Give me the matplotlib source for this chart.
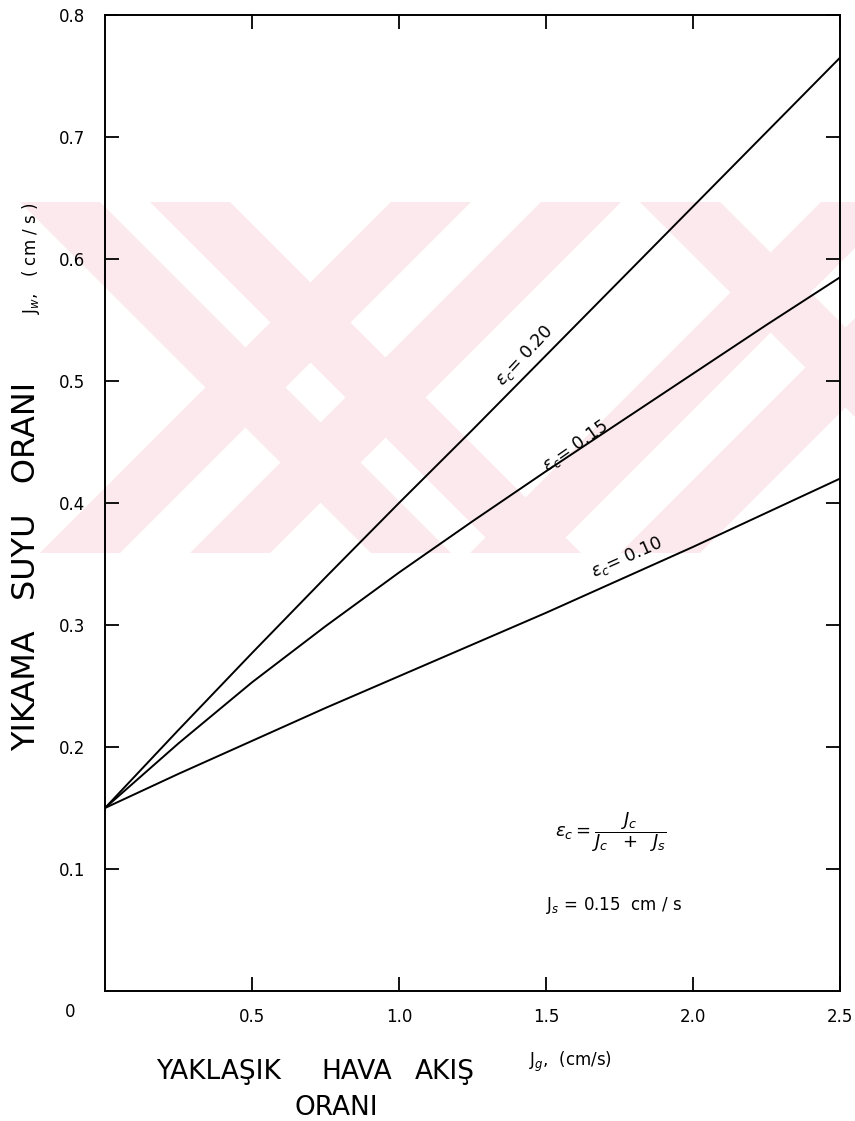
import matplotlib.pyplot as plt
from matplotlib.patches import Polygon

# air flow rate Jg (cm/s)
jg = [0.0, 0.25, 0.5, 0.75, 1.0, 1.25, 1.5, 1.75, 2.0, 2.25, 2.5]
# wash water rate Jw (cm/s) for each carrier fraction
jw_020 = [0.15, 0.214, 0.277, 0.339, 0.40, 0.46, 0.521, 0.582, 0.643, 0.704, 0.765]
jw_015 = [0.15, 0.203, 0.253, 0.299, 0.343, 0.385, 0.426, 0.466, 0.506, 0.546, 0.585]
jw_010 = [0.15, 0.178, 0.205, 0.232, 0.258, 0.284, 0.31, 0.337, 0.364, 0.392, 0.42]
curve_labels = ["0.20", "0.15", "0.10"]

xticks = [0.5, 1.0, 1.5, 2.0, 2.5]
xtick_labels = ["0.5", "1.0", "1.5", "2.0", "2.5"]
yticks = [0.1, 0.2, 0.3, 0.4, 0.5, 0.6, 0.7, 0.8]
ytick_labels = ["0.1", "0.2", "0.3", "0.4", "0.5", "0.6", "0.7", "0.8"]

W, H = 855, 1121
fig = plt.figure(figsize=(W / 100, H / 100), dpi=100)

# faint pink watermark in the background (pixel coords, origin top-left)
bg = fig.add_axes([0, 0, 1, 1], zorder=-10)
bg.set_xlim(0, W)
bg.set_ylim(H, 0)
bg.axis("off")
pink = "#fce9ed"
y0, y1 = 202, 553
band = y1 - y0
stripes = []
for xs in [20, 150, 640]:      # "\" stripes
    stripes.append([(xs, y0), (xs + 80, y0), (xs + 80 + band, y1), (xs + band, y1)])
for xs in [40, 190, 470, 620]:  # "/" stripes
    stripes.append([(xs, y1), (xs + 80, y1), (xs + 80 + band, y0), (xs + band, y0)])
for s in stripes:
    bg.add_patch(Polygon(s, closed=True, facecolor=pink, edgecolor="none"))

ax = fig.add_axes([105 / W, 1 - 991 / H, 735 / W, 976 / H])
ax.set_facecolor("none")

for series in [jw_020, jw_015, jw_010]:
    ax.plot(jg, series, color="black", lw=1.4)

ax.set_xlim(0, 2.5)
ax.set_ylim(0, 0.8)
ax.set_xticks(xticks)
ax.set_xticklabels(xtick_labels, fontsize=12)
ax.set_yticks(yticks)
ax.set_yticklabels(ytick_labels, fontsize=12)
ax.tick_params(direction="in", top=True, right=True, length=10, width=1.3, pad=14)
ax.tick_params(axis="x", pad=12)
for sp in ax.spines.values():
    sp.set_linewidth(1.4)

ax.annotate("0", xy=(0, 0), xytext=(-25, -15), textcoords="offset points",
            ha="center", va="center", fontsize=12)

# curve labels along the lines
ax.text(1.45, 0.515, r"$\epsilon_c$= " + curve_labels[0], rotation=47,
        rotation_mode="anchor", ha="center", va="bottom", fontsize=12.5)
ax.text(1.62, 0.44, r"$\epsilon_c$= " + curve_labels[1], rotation=35,
        rotation_mode="anchor", ha="center", va="bottom", fontsize=12.5)
ax.text(1.79, 0.348, r"$\epsilon_c$= " + curve_labels[2], rotation=24,
        rotation_mode="anchor", ha="center", va="bottom", fontsize=12.5)

# definition of the carrier fraction
ax.text(1.53, 0.13, r"$\epsilon_c = \dfrac{J_c}{J_c\ \ +\ \ J_s}$", fontsize=13,
        ha="left", va="center")
ax.text(1.5, 0.07, r"J$_s$ = 0.15  cm / s", fontsize=12, ha="left", va="center")

# axis titles
fig.text(27 / W, 1 - 566 / H, "YIKAMA   SUYU   ORANI", rotation=90,
         ha="center", va="center", fontsize=23)
fig.text(31 / W, 1 - 258 / H, r"J$_w$,   ( cm / s )", rotation=90,
         ha="center", va="center", fontsize=12)
for word, xc, yc in [("YAKLAŞIK", 218, 1072), ("HAVA", 357, 1072),
                     ("AKIŞ", 445, 1072), ("ORANI", 336, 1108)]:
    fig.text(xc / W, 1 - yc / H, word, ha="center", va="center", fontsize=19)
fig.text(570 / W, 1 - 1062 / H, r"J$_g$,  (cm/s)", ha="center", va="center",
         fontsize=12)

fig.savefig("out.png", dpi=100)
